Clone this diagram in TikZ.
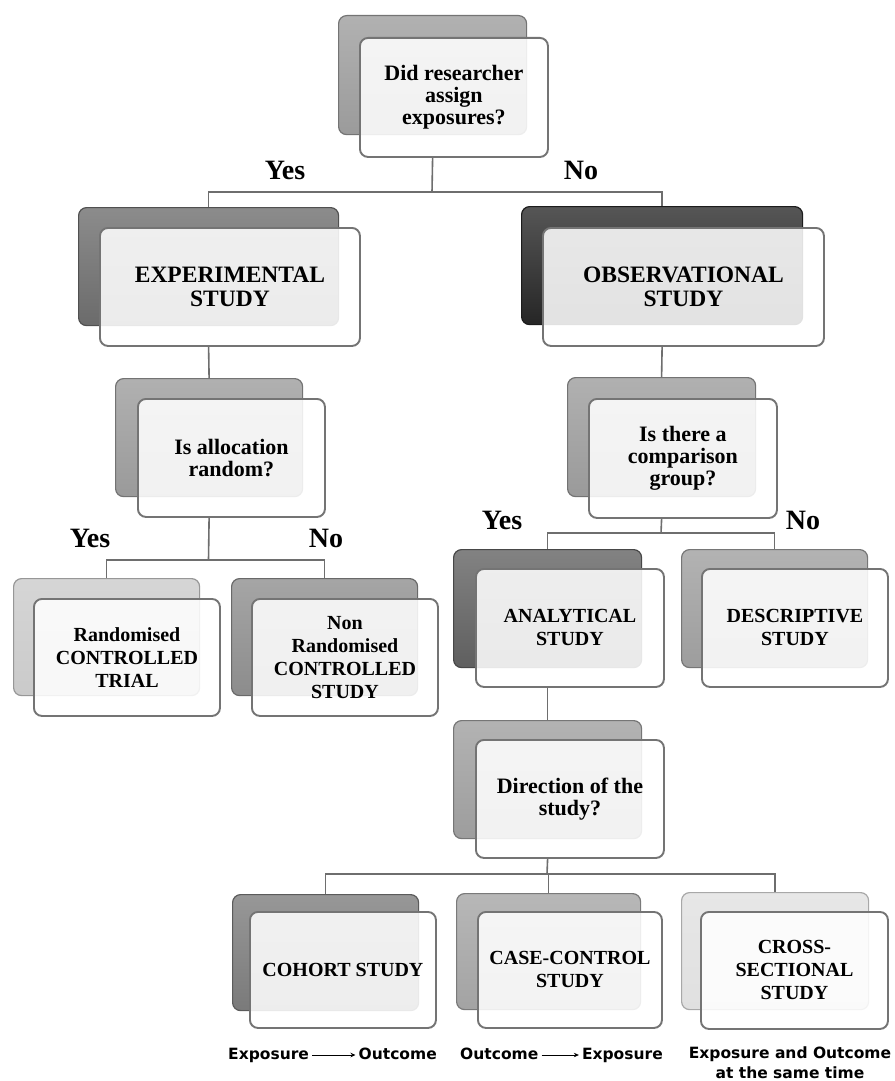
\documentclass[tikz,border=0pt]{standalone}
\usepackage{fontspec}
\setmainfont{Liberation Serif}
\newfontfamily\notefont{DejaVu Sans}
\usetikzlibrary{arrows.meta}

\definecolor{boxline}{HTML}{747474}
\definecolor{linkline}{HTML}{6E6E6E}
\definecolor{cA}{HTML}{9B9B9B}
\definecolor{cB}{HTML}{6B6B6B}
\definecolor{cC}{HTML}{262626}
\definecolor{cD}{HTML}{9A9A9A}
\definecolor{cE}{HTML}{CACACA}
\definecolor{cF}{HTML}{8C8C8C}
\definecolor{cG}{HTML}{5F5F5F}
\definecolor{cH}{HTML}{9D9D9D}
\definecolor{cI}{HTML}{7A7A7A}
\definecolor{cJ}{HTML}{A3A3A3}
\definecolor{cK}{HTML}{E0E0E0}

\newcommand\bigfont{\fontsize{23.5}{24.5}\selectfont\bfseries}
\newcommand\qfont{\fontsize{22}{22}\selectfont\bfseries}
\newcommand\smfont{\fontsize{20}{23}\selectfont\bfseries}

% a box is a shaded card with a translucent white card laid over it
\newcommand\boxpair[8]{%
  \node[backbox=#2, minimum width=#5pt, minimum height=#6pt] (#1B) at #3 {};
  \node[frontbox, minimum width=#5pt, minimum height=#6pt, font=#7] (#1) at #4 {#8};
}

\begin{document}
\begin{tikzpicture}[x=1pt,y=-1pt,
  backbox/.style={draw=#1!75!black, line width=1.2pt, rounded corners=8pt,
    top color=#1!78!white, bottom color=#1, anchor=north west, inner sep=0pt},
  frontbox/.style={draw=boxline, line width=1.9pt, rounded corners=8pt,
    fill=white, fill opacity=0.87, text opacity=1, anchor=north west,
    align=center, inner sep=0pt},
  conn/.style={draw=linkline, line width=1.6pt},
  yn/.style={font=\fontsize{28}{28}\selectfont\bfseries, inner sep=0pt},
  note/.style={font=\notefont\fontsize{15.5}{20}\selectfont\bfseries,
    inner sep=1pt, text height=11pt, text depth=3pt},
  notearrow/.style={draw=black, line width=1pt, -{Stealth[length=5pt,width=4.5pt]},
    shorten <=2pt, shorten >=2pt}
]
\fill[white] (0,0) rectangle (894,1081);
\useasboundingbox (0,0) rectangle (894,1081);

% cards
\boxpair{top}{cA}{(338,15)}{(359,37)}{188}{119}{\qfont}{Did researcher\\assign\\exposures?}
\boxpair{exp}{cB}{(78,207)}{(99,227)}{260}{118}{\bigfont}{EXPERIMENTAL\\STUDY}
\boxpair{obs}{cC}{(521,206)}{(542,227)}{281}{118}{\bigfont}{OBSERVATIONAL\\STUDY}
\boxpair{alloc}{cD}{(115,378)}{(137,398)}{187}{118}{\qfont}{Is allocation\\random?}
\boxpair{comp}{cD}{(567,377)}{(588,398)}{188}{119}{\qfont}{Is there a\\comparison\\group?}
\boxpair{rct}{cE}{(13,578)}{(33,598)}{186}{117}{\smfont}{Randomised\\CONTROLLED\\TRIAL}
\boxpair{nrct}{cF}{(231,578)}{(251,598)}{186}{117}{\smfont}{Non\\Randomised\\CONTROLLED\\STUDY}
\boxpair{ana}{cG}{(453,549)}{(475,568)}{188}{118}{\smfont}{ANALYTICAL\\STUDY}
\boxpair{des}{cH}{(681,549)}{(701,568)}{186}{118}{\smfont}{DESCRIPTIVE\\STUDY}
\boxpair{dir}{cH}{(453,720)}{(475,739)}{188}{118}{\qfont}{Direction of the\\study?}
\boxpair{coh}{cI}{(232,894)}{(249,911)}{186}{116}{\smfont}{COHORT STUDY}
\boxpair{cc}{cJ}{(456,893)}{(477,911)}{184}{116}{\smfont}{CASE-CONTROL\\STUDY}
\boxpair{cs}{cK}{(681,892)}{(700,911)}{187}{117}{\smfont}{CROSS-\\SECTIONAL\\STUDY}

% junction points of the connectors
\coordinate (bus1) at (432,192);
\coordinate (bus2) at (208.5,560);
\coordinate (bus3) at (661,533);
\coordinate (bus4) at (547,874);

% connectors
\draw[conn] (topB.south |- top.south) -- (bus1);
\draw[conn] (bus1) -| (expB.north);
\draw[conn] (bus1) -| (obsB.north);
\draw[conn] (expB.south |- exp.south) -- (allocB.north);
\draw[conn] (obsB.south |- obs.south) -- (compB.north);
\draw[conn] (allocB.south |- alloc.south) -- (bus2);
\draw[conn] (bus2) -| (rctB.north);
\draw[conn] (bus2) -| (nrctB.north);
\draw[conn] (compB.south |- comp.south) -- (bus3);
\draw[conn] (bus3) -| (anaB.north);
\draw[conn] (bus3) -| (desB.north);
\draw[conn] (anaB.south |- ana.south) -- (dirB.north);
\draw[conn] (dirB.south |- dir.south) -- (bus4);
\draw[conn] (bus4) -| (cohB.north);
\draw[conn] (bus4) -| (ccB.north);
\draw[conn] (bus4) -| (csB.north);

% answers
\node[yn] (yes1) at (285,170) {Yes};
\node[yn] (no1) at (581,170) {No};
\node[yn] (yes2) at (90,538) {Yes};
\node[yn] (no2) at (326,538) {No};
\node[yn] (yes3) at (502,520) {Yes};
\node[yn] (no3) at (803,520) {No};

% time direction under each design
\node[note, anchor=base west] (e1) at (227,1059) {Exposure};
\node[note, anchor=base east] (o1) at (438,1059) {Outcome};
\draw[notearrow] (e1.east) -- (o1.west);
\node[note, anchor=base west] (o2) at (459,1059) {Outcome};
\node[note, anchor=base east] (e2) at (664,1059) {Exposure};
\draw[notearrow] (o2.east) -- (e2.west);
\node[note, anchor=base] (eo1) at (790,1058) {Exposure and Outcome};
\node[note, anchor=base] (eo2) at (790,1078) {at the same time};
\end{tikzpicture}
\end{document}
